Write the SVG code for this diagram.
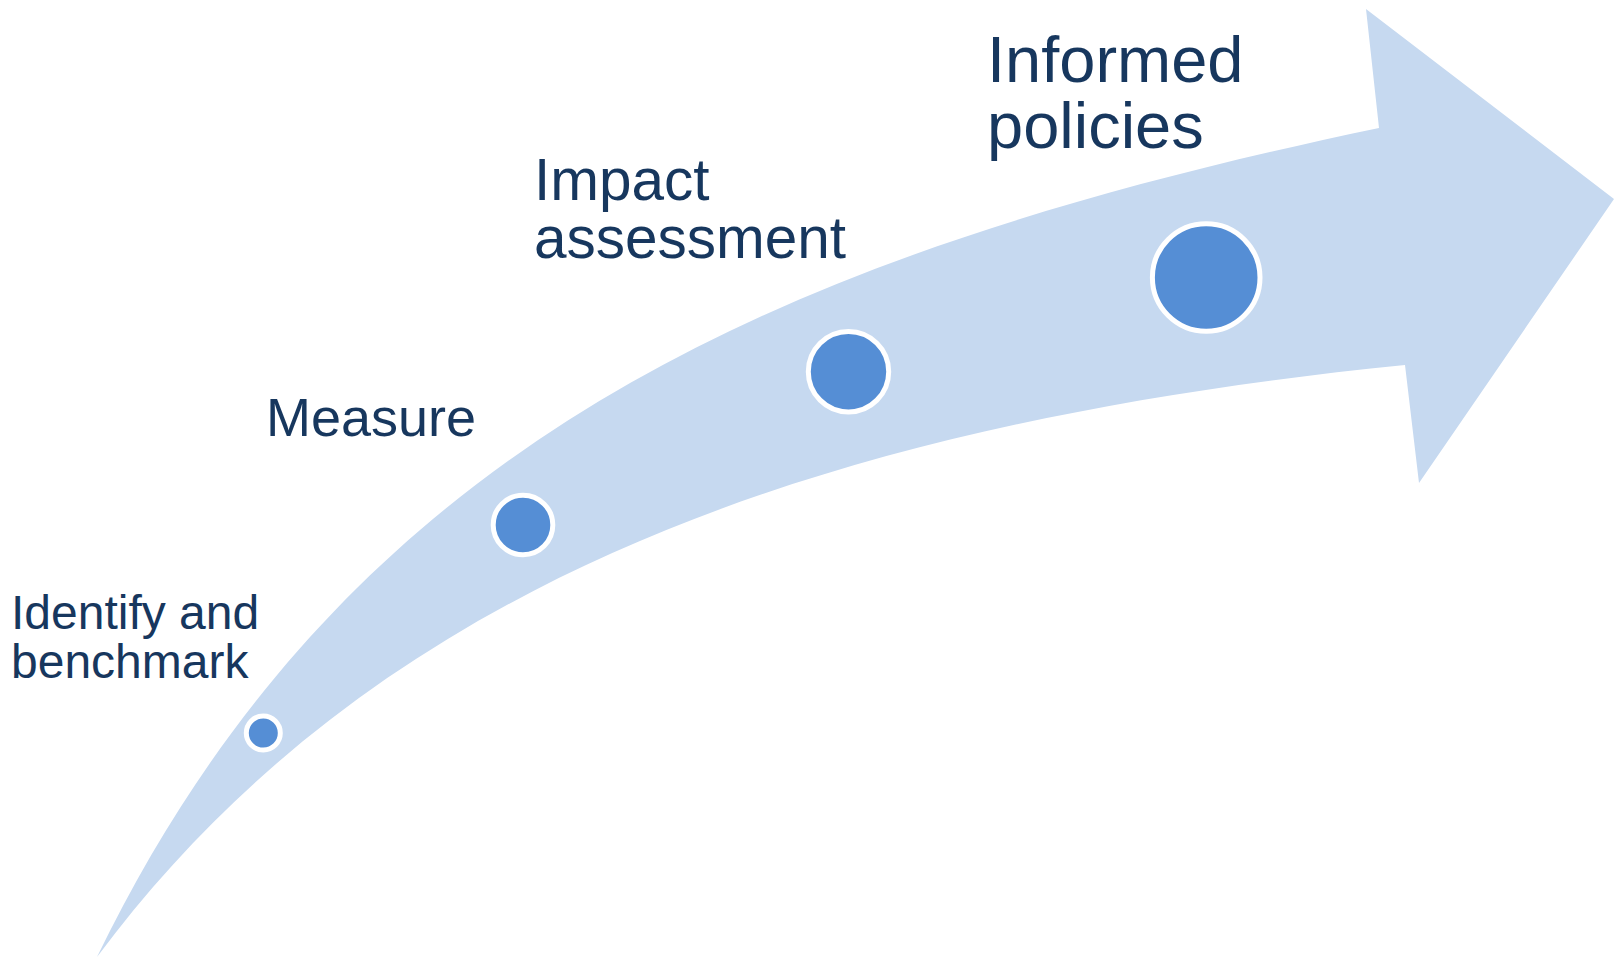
<svg xmlns="http://www.w3.org/2000/svg" width="1614" height="957" viewBox="0 0 1614 957">
<style>
.lbl{font-family:"Liberation Sans",Arial,sans-serif;fill:#17375E}
.dot{fill:#558ED5;stroke:#FFFFFF;stroke-width:5}
</style>
<rect width="1614" height="957" fill="#FFFFFF"/>
<g id="arrow">
<path d="M97,957 C347,442 779,254 1379,128 L1366,9 L1614,199 L1419,483 L1405,365 C805,425 370,590 97,957 Z" fill="#C6D9F0"/>
</g>
<g id="connectors"></g>
<g id="node-identify">
<circle class="dot" cx="263.3" cy="733" r="17"/>
<text class="lbl" font-size="48"><tspan x="11" y="629">Identify and</tspan><tspan x="11" y="678">benchmark</tspan></text>
</g>
<g id="node-measure">
<circle class="dot" cx="523" cy="525" r="29.8"/>
<text class="lbl" font-size="54" x="266" y="436">Measure</text>
</g>
<g id="node-impact">
<circle class="dot" cx="848.5" cy="371.7" r="40.2"/>
<text class="lbl" font-size="58.5"><tspan x="534" y="200">Impact</tspan><tspan x="534" y="258.3">assessment</tspan></text>
</g>
<g id="node-informed">
<circle class="dot" cx="1206.2" cy="277.5" r="53.8"/>
<text class="lbl" font-size="65"><tspan x="987" y="82.3">Informed</tspan><tspan x="987" y="147.7">policies</tspan></text>
</g>
</svg>
